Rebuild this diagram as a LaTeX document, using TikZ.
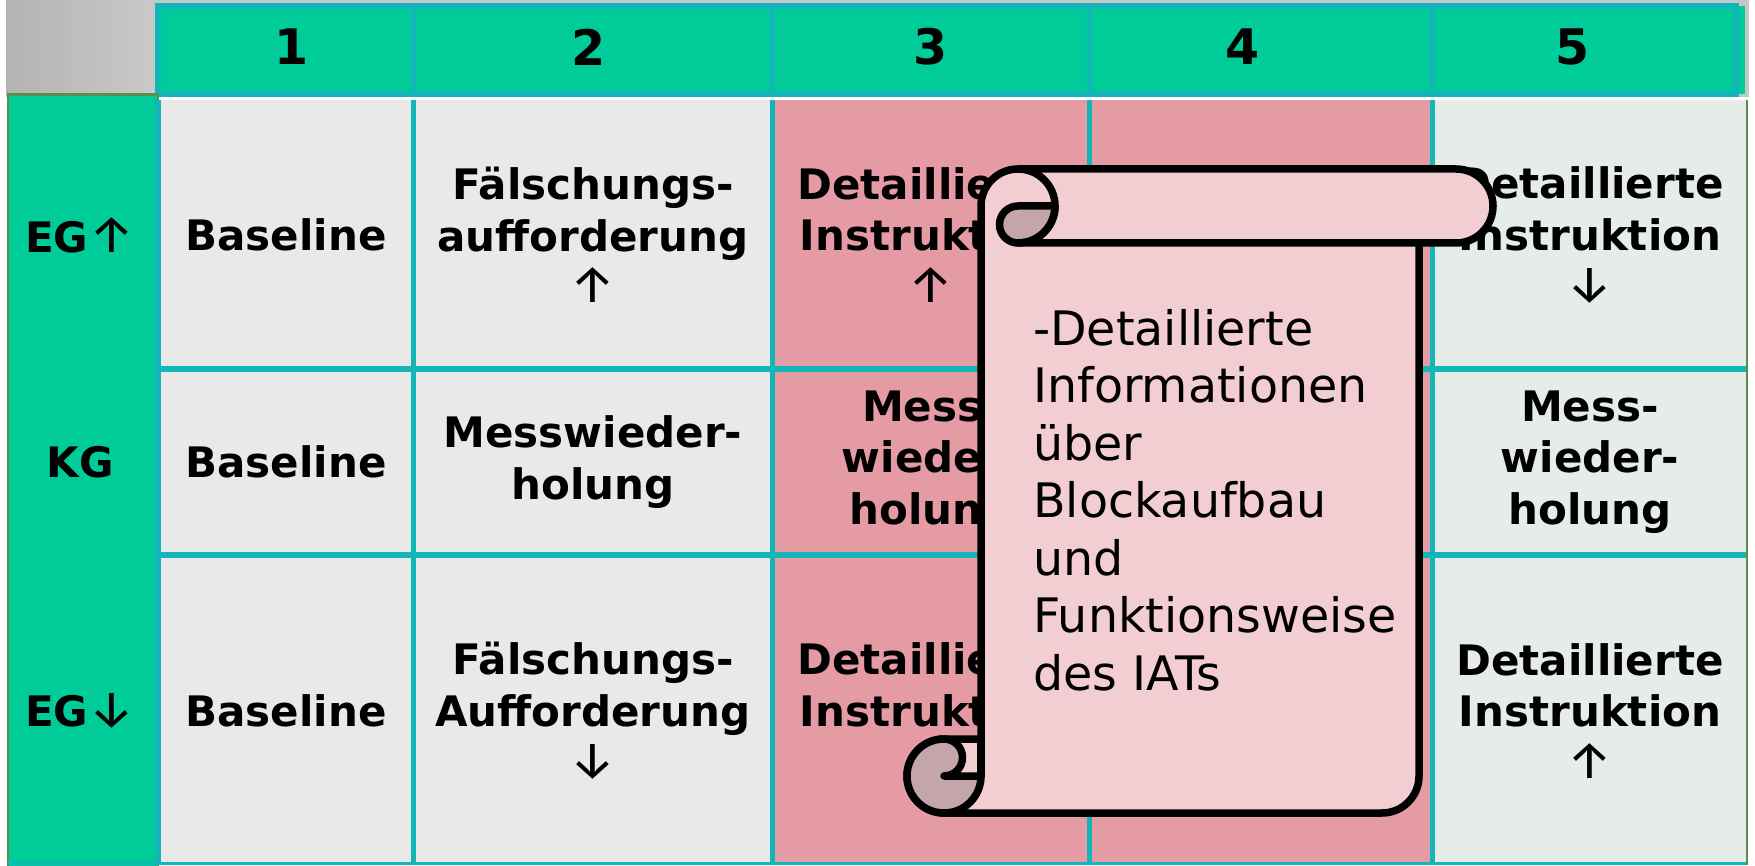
\documentclass[tikz,border=0pt]{standalone}
\usepackage{fontspec}
\setmainfont{DejaVu Sans}
\newfontfamily\arrowfont{Fira Sans}

\definecolor{hdrgreen}{HTML}{00CC99}
\definecolor{gridteal}{HTML}{12B5B8}
\definecolor{edgeolive}{HTML}{5E8C4E}
\definecolor{cellgray}{HTML}{E9E9E9}
\definecolor{cellmint}{HTML}{E6ECE8}
\definecolor{cellrose}{HTML}{E59BA4}
\definecolor{scrollpink}{HTML}{F2CDD2}
\definecolor{scrollcurl}{HTML}{C4A6AA}

\newcommand\arup{{\arrowfont\mdseries\fontsize{52}{51.5}\selectfont ↑}}
\newcommand\ardown{{\arrowfont\mdseries\fontsize{52}{51.5}\selectfont ↓}}

\begin{document}
\begin{tikzpicture}[x=1pt,y=1pt,
		cell/.style={inner sep=0pt,align=center,font=\fontsize{42}{51.5}\selectfont\bfseries},
		head/.style={inner sep=0pt,font=\fontsize{49}{55}\selectfont\bfseries},
		grid/.style={draw=gridteal,line width=5.5pt},
		scrollline/.style={draw=black,line width=7.5pt,line join=round,line cap=round},
		scrolltext/.style={inner sep=0pt,align=left,font=\fontsize{47.5}{57.5}\selectfont}]
		\useasboundingbox (0,0) rectangle (1755,865);
		\pgfmathsetmacro\R{37}
		% header strip
		\fill[black!22] (6,768) rectangle (1749,865);
		\shade[left color=black!30,right color=black!21] (6,771) rectangle (156,865);
		\fill[hdrgreen] (158,771) rectangle (1745,859);
		\draw[grid] (158,859) rectangle (1736,771);
		\foreach \x in {413.5,772.5,1089.5,1432.5}
			\draw[grid] (\x,859) -- (\x,771);
		\foreach \n/\x in {1/292,2/589,3/931,4/1243,5/1573}
			\node[head] (h\n) at (\x,818) {\n};
		% left column
		\filldraw[fill=hdrgreen,draw=edgeolive,line width=2.5pt] (8,-2) rectangle (158,770.5);
		% cells
		\fill[cellgray] (158,0) rectangle (772.5,765);
		\fill[cellrose] (772.5,0) rectangle (1432.5,765);
		\fill[cellmint] (1432.5,0) rectangle (1747,765);
		\foreach \x in {158,413.5,772.5,1089.5,1432.5}
			\draw[grid] (\x,0) -- (\x,765);
		\foreach \y in {496,310}
			\draw[grid] (158,\y) -- (1747,\y);
		\draw[gridteal,line width=3pt] (8,1.5) -- (1747,1.5);
		\draw[edgeolive,line width=1.5pt] (1747,0) -- (1747,765);
		
		\node[cell] (lup) at (80,630) {EG\arup};
		\node[cell] (lkg) at (80,403) {KG};
		\node[cell] (ldn) at (80,154) {EG\ardown};
		
		\node[cell] (up1) at (286,630) {Baseline};
		\node[cell] (up2) at (593,630) {Fälschungs-\\aufforderung\\\arup};
		\node[cell] (up3) at (931,630) {Detaillierte\\Instruktion\\\arup};
		\node[cell] (up5) at (1590,630) {Detaillierte\\Instruktion\\\ardown};
		
		\node[cell] (kg1) at (286,403) {Baseline};
		\node[cell] (kg2) at (593,403) {Messwieder-\\holung};
		\node[cell] (kg3) at (931,403) {Mess-\\wieder-\\holung};
		\node[cell] (kg5) at (1590,403) {Mess-\\wieder-\\holung};
		
		\node[cell] (dn1) at (286,154) {Baseline};
		\node[cell] (dn2) at (593,154) {Fälschungs-\\Aufforderung\\\ardown};
		\node[cell] (dn3) at (931,154) {Detaillierte\\Instruktion\\\ardown};
		\node[cell] (dn5) at (1590,154) {Detaillierte\\Instruktion\\\arup};
		
		% scroll
		\filldraw[fill=scrollpink,scrollline] (944,52) -- (1382,52) arc[start angle=-90,end angle=0,radius=\R]
			-- (1419,622) -- (1456,622) arc[start angle=-90,end angle=90,radius=\R]
			-- (1018,696) arc[start angle=90,end angle=180,radius=\R]
			-- (981,126) -- (944,126) arc[start angle=90,end angle=270,radius=\R] -- cycle;
		\filldraw[fill=scrollcurl,scrollline] (1018,659) -- (1055,659) arc[start angle=0,end angle=-90,radius=\R]
			arc[start angle=-90,end angle=-270,radius=\R/2] -- cycle;
		\draw[scrollline] (1018,696) arc[start angle=90,end angle=-90,radius=\R] -- (1419,622);
		\filldraw[fill=scrollcurl,scrollline] (944,89) -- (981,89) arc[start angle=0,end angle=-90,radius=\R]
			arc[start angle=-90,end angle=-270,radius=\R] arc[start angle=90,end angle=-90,radius=\R/2] -- cycle;
		\draw[scrollline] (981,126) -- (981,89);
		\node[scrolltext,anchor=north west] (info) at (1033,556) {-Detaillierte\\Informationen\\über\\Blockaufbau\\und\\Funktionsweise\\des IATs};
\end{tikzpicture}
\end{document}
